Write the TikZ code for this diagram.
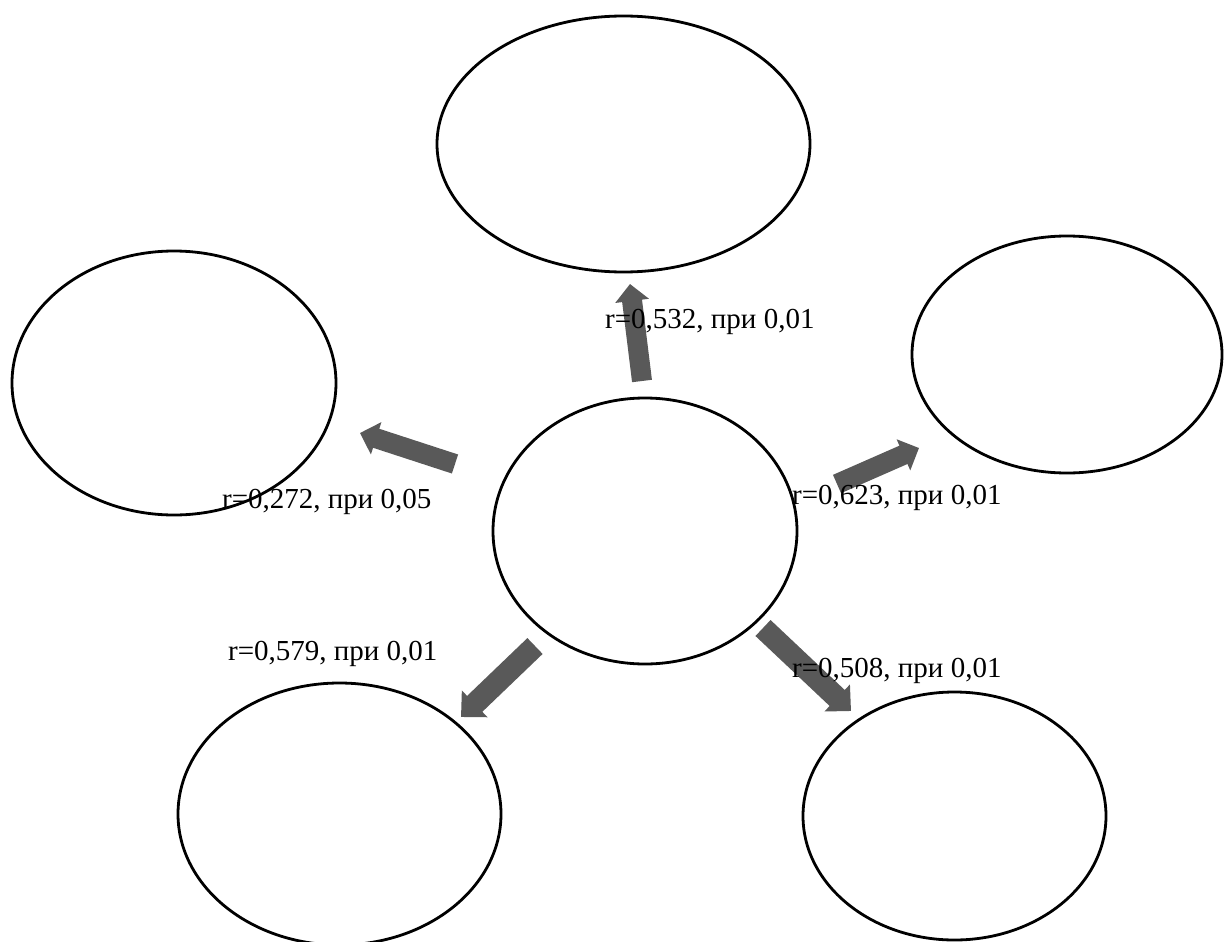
\documentclass[tikz,border=0pt]{standalone}
\usepackage{fontspec}
\setmainfont{Liberation Serif}
\usetikzlibrary{shapes.geometric,arrows.meta}
\definecolor{arrowgray}{RGB}{89,89,89}
\tikzset{
  oval/.style={ellipse, draw=black, line width=2.8pt, inner sep=0pt},
  blockarrow/.style={line width=20pt, draw=arrowgray,
    -{Triangle[width=33pt,length=17pt,fill=arrowgray]}},
  wideblockarrow/.style={line width=22pt, draw=arrowgray,
    -{Triangle[width=36pt,length=19pt,fill=arrowgray]}},
  corr/.style={anchor=base west, inner sep=0pt, font=\fontsize{29}{34}\selectfont}
}
\begin{document}
\begin{tikzpicture}[x=1pt,y=-1pt]
\useasboundingbox (0,0) rectangle (1229,942);
% arrow end points
\coordinate (t1) at (642,381); \coordinate (h1) at (630,284);
\coordinate (t2) at (455,464); \coordinate (h2) at (360,433);
\coordinate (t3) at (837,484); \coordinate (h3) at (919,448);
\coordinate (t4) at (535,646); \coordinate (h4) at (461,717);
\coordinate (t5) at (763,628); \coordinate (h5) at (851,711);
\draw[blockarrow] (t1) -- (h1);
\draw[blockarrow] (t2) -- (h2);
\draw[blockarrow] (t3) -- (h3);
\draw[wideblockarrow] (t4) -- (h4);
\draw[wideblockarrow] (t5) -- (h5);
% labels
\node[corr] (l1) at (605,328) {r=0,532, при 0,01};
\node[corr] (l2) at (222,508) {r=0,272, при 0,05};
\node[corr] (l3) at (792,504) {r=0,623, при 0,01};
\node[corr] (l4) at (228,660) {r=0,579, при 0,01};
\node[corr] (l5) at (792,677) {r=0,508, при 0,01};
% ellipses
\node[oval, minimum width=373pt, minimum height=256pt] (top) at (623.5,144) {};
\node[oval, minimum width=324pt, minimum height=264pt] (left) at (174,383) {};
\node[oval, minimum width=310pt, minimum height=237pt] (right) at (1067,354.5) {};
\node[oval, minimum width=304pt, minimum height=266pt] (center) at (645,531) {};
\node[oval, minimum width=323pt, minimum height=262pt] (bl) at (339.5,814) {};
\node[oval, minimum width=303pt, minimum height=248pt] (br) at (954.5,816) {};
\end{tikzpicture}
\end{document}
